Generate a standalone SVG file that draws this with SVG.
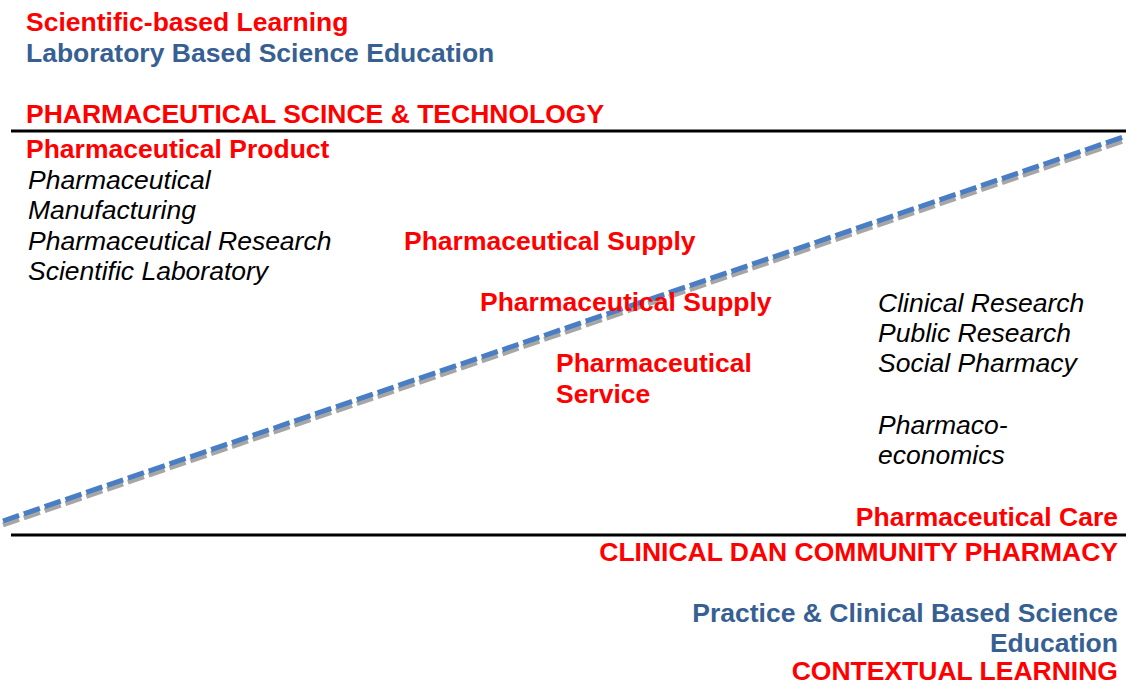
<svg xmlns="http://www.w3.org/2000/svg" width="1126" height="686" viewBox="0 0 1126 686">
<style>
text{font-family:"Liberation Sans",Arial,sans-serif;font-size:26.5px}
.r{fill:#FF0000;font-weight:bold}
.b{fill:#376092;font-weight:bold}
.i{fill:#000;font-style:italic}
.e{text-anchor:end}
</style>
<rect width="1126" height="686" fill="#fff"/>
<g id="connectors">
<line x1="11" y1="131" x2="1126" y2="131" stroke="#000" stroke-width="3"/>
<line x1="11" y1="535" x2="1126" y2="535" stroke="#000" stroke-width="3"/>
<line x1="3" y1="525" x2="1126" y2="140" stroke="#A6A6A6" stroke-width="5" stroke-dasharray="17,5"/>
<line x1="3" y1="521" x2="1126" y2="136" stroke="#4A7EC4" stroke-width="5" stroke-dasharray="17,5"/>
</g>
<g id="top-labels">
<text class="r" x="26" y="31">Scientific-based Learning</text>
<text class="b" x="26" y="62">Laboratory Based Science Education</text>
<text class="r" x="26" y="123">PHARMACEUTICAL SCINCE &amp; TECHNOLOGY</text>
</g>
<g id="product">
<text class="r" x="26" y="158">Pharmaceutical Product</text>
<text class="i" x="28" y="189">Pharmaceutical</text>
<text class="i" x="28" y="219">Manufacturing</text>
<text class="i" x="28" y="250">Pharmaceutical Research</text>
<text class="i" x="28" y="280">Scientific Laboratory</text>
</g>
<g id="supply1"><text class="r" x="404" y="250">Pharmaceutical Supply</text></g>
<g id="supply2"><text class="r" x="480" y="311">Pharmaceutical Supply</text></g>
<g id="service">
<text class="r" x="556" y="372">Pharmaceutical</text>
<text class="r" x="556" y="403">Service</text>
</g>
<g id="research">
<text class="i" x="878" y="312">Clinical Research</text>
<text class="i" x="878" y="342">Public Research</text>
<text class="i" x="878" y="372">Social Pharmacy</text>
<text class="i" x="878" y="434">Pharmaco-</text>
<text class="i" x="878" y="464">economics</text>
</g>
<g id="bottom-labels">
<text class="r e" x="1118" y="526">Pharmaceutical Care</text>
<text class="r e" x="1118" y="561">CLINICAL DAN COMMUNITY PHARMACY</text>
<text class="b e" x="1118" y="622">Practice &amp; Clinical Based Science</text>
<text class="b e" x="1118" y="652">Education</text>
<text class="r e" x="1118" y="680">CONTEXTUAL LEARNING</text>
</g>
</svg>
